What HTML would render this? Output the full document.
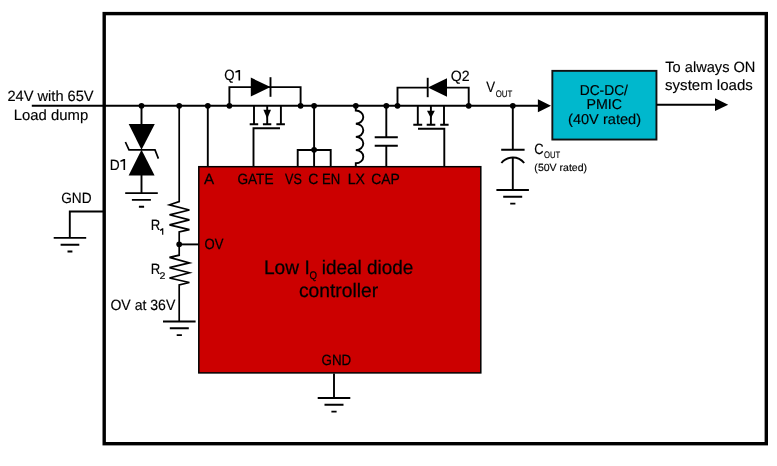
<!DOCTYPE html>
<html><head><meta charset="utf-8">
<style>
html,body{margin:0;padding:0;background:#fff;}
svg{display:block;will-change:transform;}
text{font-family:"Liberation Sans",sans-serif;fill:#000;stroke:#000;stroke-width:0.15px;text-rendering:geometricPrecision;}
text.r{stroke-width:0.25px;}
</style></head>
<body>
<svg width="777" height="466" viewBox="0 0 777 466">
<!-- outer border -->
<rect x="104.2" y="13.6" width="662.1" height="430.1" fill="none" stroke="#000" stroke-width="3.4"/>
<!-- red box -->
<rect x="198.8" y="166.7" width="282" height="206.2" fill="#cc0000" stroke="#000" stroke-width="1.5"/>
<!-- teal box -->
<rect x="552.35" y="70.85" width="104.1" height="68.7" fill="#00b8cd" stroke="#111" stroke-width="1.9"/>

<g stroke="#000" stroke-width="1.9" fill="none" stroke-linecap="butt">
<!-- main line -->
<path d="M31.8 105.8H538"/>
<!-- D1 vertical -->
<path d="M141.5 105.8V124M141.5 175V193.1"/>
<!-- R1/R2 line -->
<path d="M179.2 105.8V201.6L169.5 204.8L189.4 210L169.5 214.8L189.4 219.9L169.5 224.8L189.4 229.7L179.2 232V255.2L169.5 257.4L189.4 262.9L169.5 267.7L189.4 272.8L169.5 278L189.4 282.5L179.2 285V321.5" stroke-width="1.7" stroke-linejoin="miter"/>
<path d="M179.2 244.4H198.8"/>
<!-- A line -->
<path d="M207.8 105.8V166"/>
<!-- Q1 -->
<path d="M229.4 105.8V87.1H270.5"/>
<path d="M270.5 87.1H300.6V105.8"/>
<path d="M270.5 77.2V96.8"/>
<path d="M254 105.8V124.2M267.2 105.8V124.2M280.9 105.8V124.2"/>
<path d="M249.7 124.2H258.2M262.9 124.2H271.3M276.4 124.2H284.9"/>
<path d="M253.5 166V128.2H280"/>
<!-- VS C EN -->
<path d="M314.1 105.8V166M297.7 166V150H330.7V166"/>
<!-- LX inductor -->
<path d="M355.8 105.8V110.5A7.5 6.6 0 0 1 355.8 123.7A7.5 6.6 0 0 1 355.8 136.9A7.5 6.6 0 0 1 355.8 150.1A7.5 6.6 0 0 1 355.8 163.3V166"/>
<!-- CAP -->
<path d="M386.3 105.8V137.3M374.7 137.3H397.8M374.7 145.7H397.8M386.3 145.7V166"/>
<!-- Q2 -->
<path d="M397.5 105.8V87.6H427.7"/>
<path d="M447 87.6H468.7V105.8"/>
<path d="M427.7 77.8V97.2"/>
<path d="M417.8 105.8V124.8M430.9 105.8V124.8M444 105.8V124.8"/>
<path d="M413.3 124.8H422.2M426.7 124.8H435.3M440.2 124.8H448.6"/>
<path d="M418 128.8H444.3V166"/>
<!-- Cout -->
<path d="M512.8 105.8V149.8M501.2 149.8H524.6M512.8 157V190"/>
<path d="M501.4 163A14.5 14.5 0 0 1 524.2 163"/>
<!-- output line -->
<path d="M656.5 104.8H715"/>
<!-- GND left -->
<path d="M104 211.5H69.8V237.9"/>
<!-- grounds -->
<path d="M125.2 193.1H157.8M131.9 199.9H150.9M138.9 206.7H144.1"/>
<path d="M53.7 237.9H86.2M60.6 244.7H79.3M67.5 251.5H72.4"/>
<path d="M163 321.5H195.6M169.8 328.3H188.8M176.7 335.1H181.9"/>
<path d="M334 373.6V398M317.7 398H350.3M324.5 404.8H343.5M331.4 411.6H336.6"/>
<path d="M496.4 190H528.9M503.2 196.8H522.2M510.2 203.6H515.4"/>
<!-- zener bar -->
<path d="M125.4 142L129 149.9H155L158.4 158.6" stroke-width="1.7"/>
</g>
<g fill="#000">
<!-- dots -->
<circle cx="141.5" cy="105.8" r="2.85"/>
<circle cx="179.2" cy="105.8" r="2.85"/>
<circle cx="207.8" cy="105.8" r="2.85"/>
<circle cx="229.4" cy="105.8" r="2.85"/>
<circle cx="300.6" cy="105.8" r="2.85"/>
<circle cx="314.1" cy="105.8" r="2.85"/>
<circle cx="355.8" cy="105.8" r="2.85"/>
<circle cx="386.3" cy="105.8" r="2.85"/>
<circle cx="397.5" cy="105.8" r="2.85"/>
<circle cx="468.7" cy="105.8" r="2.85"/>
<circle cx="512.8" cy="105.8" r="2.85"/>
<circle cx="314.1" cy="149.8" r="2.85"/>
<circle cx="179.2" cy="244.3" r="2.85"/>
<!-- D1 triangles -->
<path d="M128.7 124H154.8L141.5 149.8Z"/>
<path d="M141.5 149.8L154.6 175.4H128.6Z"/>
<!-- Q1 diode -->
<path d="M250.8 77.6V96.6L270.5 87.1Z"/>
<!-- Q1 arrow -->
<path d="M263.4 109.8H271L267.2 118.8Z"/>
<!-- Q2 diode -->
<path d="M447 78.3V96.8L427.9 87.5Z"/>
<!-- Q2 arrow -->
<path d="M427 110.8H434.8L430.9 118.2Z"/>
<!-- Vout arrow -->
<path d="M537.9 99.2L551 105.8L537.9 112.2Z"/>
<!-- output arrow -->
<path d="M715 98.2L728.2 104.8L715 111Z"/>
</g>

<!-- texts -->
<g fill="#000"><path d="M125.10 159.00V169.90H123.50V161.00L120.40 161.90V160.45L123.60 159.00Z"/><path d="M240.10 69.90V80.40H238.50V71.90L235.40 72.80V71.35L238.60 69.90Z"/><path d="M163.30 228.20V234.80H162.10V230.20L160.00 231.10V229.65L162.20 228.20Z"/></g>
<text x="7.41" y="100.9" font-size="14.8" textLength="86.23" lengthAdjust="spacingAndGlyphs">24V with 65V</text>
<text x="13.78" y="120.2" font-size="14.8" textLength="74.43" lengthAdjust="spacingAndGlyphs">Load dump</text>
<text x="109.78" y="169.9" font-size="14.8" textLength="9.93" lengthAdjust="spacingAndGlyphs">D</text>
<text x="61.23" y="202.6" font-size="14.8" textLength="30.35" lengthAdjust="spacingAndGlyphs">GND</text>
<text x="150.85" y="229.6" font-size="14.8" textLength="9.52" lengthAdjust="spacingAndGlyphs">R</text>
<text x="150.85" y="274.4" font-size="14.8" textLength="9.52" lengthAdjust="spacingAndGlyphs">R</text>
<text x="159.60" y="279.4" font-size="9.5" textLength="5.90" lengthAdjust="spacingAndGlyphs">2</text>
<text x="110.42" y="310.2" font-size="14.8" textLength="64.89" lengthAdjust="spacingAndGlyphs">OV at 36V</text>
<text class="r" x="204.46" y="249.4" font-size="14.8" textLength="18.92" lengthAdjust="spacingAndGlyphs">OV</text>
<text class="r" x="203.98" y="184.4" font-size="14.8" textLength="10.15" lengthAdjust="spacingAndGlyphs">A</text>
<text class="r" x="237.39" y="184.0" font-size="14.8" textLength="36.15" lengthAdjust="spacingAndGlyphs">GATE</text>
<text class="r" x="285.06" y="184.0" font-size="14.8" textLength="16.79" lengthAdjust="spacingAndGlyphs">VS</text>
<text class="r" x="308.31" y="184.0" font-size="14.8" textLength="10.10" lengthAdjust="spacingAndGlyphs">C</text>
<text class="r" x="321.92" y="184.0" font-size="14.8" textLength="18.23" lengthAdjust="spacingAndGlyphs">EN</text>
<text class="r" x="347.63" y="184.0" font-size="14.8" textLength="17.26" lengthAdjust="spacingAndGlyphs">LX</text>
<text class="r" x="371.13" y="184.0" font-size="14.8" textLength="28.64" lengthAdjust="spacingAndGlyphs">CAP</text>
<text class="r" x="263.95" y="273.8" font-size="19.5" textLength="45.77" lengthAdjust="spacingAndGlyphs">Low I</text>
<text class="r" x="309.58" y="278.8" font-size="11" textLength="7.48" lengthAdjust="spacingAndGlyphs">Q</text>
<text class="r" x="321.71" y="273.8" font-size="19.5" textLength="91.70" lengthAdjust="spacingAndGlyphs">ideal diode</text>
<text class="r" x="298.96" y="296.7" font-size="19.5" textLength="79.24" lengthAdjust="spacingAndGlyphs">controller</text>
<text class="r" x="321.61" y="364.9" font-size="14.8" textLength="29.66" lengthAdjust="spacingAndGlyphs">GND</text>
<text x="224.18" y="80.4" font-size="14.8" textLength="10.35" lengthAdjust="spacingAndGlyphs">Q</text>
<text x="450.85" y="80.9" font-size="14.8" textLength="18.86" lengthAdjust="spacingAndGlyphs">Q2</text>
<text x="486.30" y="91.8" font-size="14.8" textLength="8.82" lengthAdjust="spacingAndGlyphs">V</text>
<text x="495.68" y="96.6" font-size="9.5" textLength="16.55" lengthAdjust="spacingAndGlyphs">OUT</text>
<text x="579.72" y="94.6" font-size="14.3" textLength="48.22" lengthAdjust="spacingAndGlyphs">DC-DC/</text>
<text x="586.49" y="109.4" font-size="14.3" textLength="35.60" lengthAdjust="spacingAndGlyphs">PMIC</text>
<text x="568.02" y="123.8" font-size="14.3" textLength="73.02" lengthAdjust="spacingAndGlyphs">(40V rated)</text>
<text x="665.30" y="71.7" font-size="14.8" textLength="90.13" lengthAdjust="spacingAndGlyphs">To always ON</text>
<text x="665.10" y="89.7" font-size="14.8" textLength="87.71" lengthAdjust="spacingAndGlyphs">system loads</text>
<text x="534.20" y="153.8" font-size="14.8" textLength="9.32" lengthAdjust="spacingAndGlyphs">C</text>
<text x="543.93" y="157.7" font-size="9.5" textLength="16.22" lengthAdjust="spacingAndGlyphs">OUT</text>
<text x="534.38" y="170.7" font-size="10.4" textLength="52.74" lengthAdjust="spacingAndGlyphs">(50V rated)</text>
</svg>
</body></html>
